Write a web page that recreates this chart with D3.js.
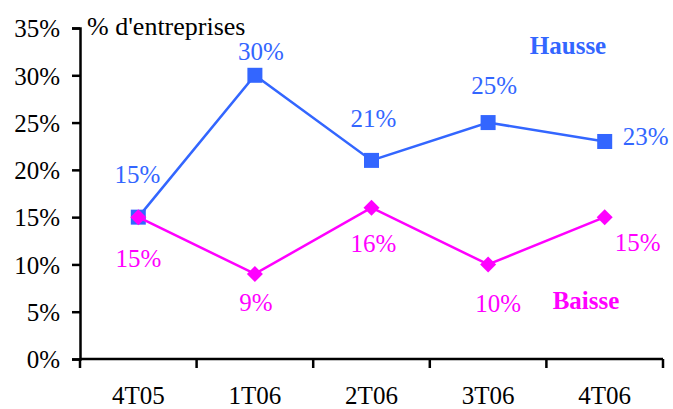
<!DOCTYPE html>
<html><head><meta charset="utf-8">
<script src="https://cdn.jsdelivr.net/npm/d3@7"></script>
<style>body{margin:0;background:#fff}svg{display:block}svg text{font-family:"Times New Roman","Liberation Serif",Tinos,Times,serif !important}</style>
</head><body><svg id="c" width="673" height="409"></svg>
<script>
const categories = ["4T05","1T06","2T06","3T06","4T06"];
const hausse = [15,30,21,25,23];
const baisse = [15,9,16,10,15];
const yTicks = [0,5,10,15,20,25,30,35];
const hausseLabels = ["15%","30%","21%","25%","23%"];
const baisseLabels = ["15%","9%","16%","10%","15%"];

const svg = d3.select("#c");
const x = d3.scaleBand().domain(categories).range([80,663]);
const y = d3.scaleLinear().domain([0,35]).range([359,28]);
const blue = "#3366FF", mag = "#FF00FF";
const FS = 25;

// y axis
const ya = svg.append("g").attr("transform","translate(80,0)")
  .call(d3.axisLeft(y).tickValues(yTicks).tickFormat(d=>d+"%").tickSizeOuter(0).tickSize(8).tickPadding(12));
ya.attr("font-family",null);
ya.select(".domain").attr("stroke","#000").attr("stroke-width",2.5);
ya.selectAll(".tick line").attr("stroke-width",2.5);
ya.selectAll("text").attr("font-size",FS).attr("fill","#000").attr("dy","0.35em");

// x axis
const xa = svg.append("g").attr("transform","translate(0,359)")
  .call(d3.axisBottom(x).tickSize(0).tickPadding(0));
xa.attr("font-family",null);
xa.select(".domain").attr("stroke","#000").attr("stroke-width",2.5).attr("d","M80,0H663");
xa.selectAll("text").attr("font-size",FS).attr("fill","#000").attr("dy",null).attr("y",44.5);
const bounds = categories.map(c=>x(c)).concat([x.range()[1]]);
xa.selectAll(".bt").data(bounds).enter().append("line")
  .attr("x1",d=>d).attr("x2",d=>d).attr("y1",0).attr("y2",9)
  .attr("stroke","#000").attr("stroke-width",2.5);

svg.append("text").attr("x",87).attr("y",35).attr("font-size",26).text("% d'entreprises");

const cx = c => x(c) + x.bandwidth()/2;
const line = d3.line().x((d,i)=>cx(categories[i])).y(d=>y(d));

svg.append("path").datum(hausse).attr("d",line).attr("fill","none").attr("stroke",blue).attr("stroke-width",2.5);
svg.selectAll(".sq").data(hausse).enter().append("rect")
  .attr("x",(d,i)=>cx(categories[i])-7.5).attr("y",d=>y(d)-7.5).attr("width",15).attr("height",15).attr("fill",blue);
svg.append("path").datum(baisse).attr("d",line).attr("fill","none").attr("stroke",mag).attr("stroke-width",2.5);
svg.selectAll(".dm").data(baisse).enter().append("path")
  .attr("d",(d,i)=>{const px=cx(categories[i]),py=y(d);return `M${px},${py-8}L${px+8},${py}L${px},${py+8}L${px-8},${py}Z`;})
  .attr("fill",mag);

// labels: [dx, dy, anchor]
const hOff = [[-1,-34,"middle"],[6,-15,"middle"],[2,-33,"middle"],[6,-29,"middle"],[18,4,"start"]];
const bOff = [[0,50,"middle"],[1,37,"middle"],[2,44,"middle"],[10,48,"middle"],[33,34,"middle"]];
svg.selectAll(".hl").data(hausse).enter().append("text")
  .attr("x",(d,i)=>cx(categories[i])+hOff[i][0]).attr("y",(d,i)=>y(d)+hOff[i][1])
  .attr("text-anchor",(d,i)=>hOff[i][2]).attr("font-size",FS).attr("fill",blue).text((d,i)=>hausseLabels[i]);
svg.selectAll(".bl").data(baisse).enter().append("text")
  .attr("x",(d,i)=>cx(categories[i])+bOff[i][0]).attr("y",(d,i)=>y(d)+bOff[i][1])
  .attr("text-anchor",(d,i)=>bOff[i][2]).attr("font-size",FS).attr("fill",mag).text((d,i)=>baisseLabels[i]);

svg.append("text").attr("x",568).attr("y",54).attr("text-anchor","middle").attr("font-size",25).attr("font-weight","bold").attr("fill",blue).text("Hausse");
svg.append("text").attr("x",586).attr("y",309).attr("text-anchor","middle").attr("font-size",25).attr("font-weight","bold").attr("fill",mag).text("Baisse");
</script></body></html>
